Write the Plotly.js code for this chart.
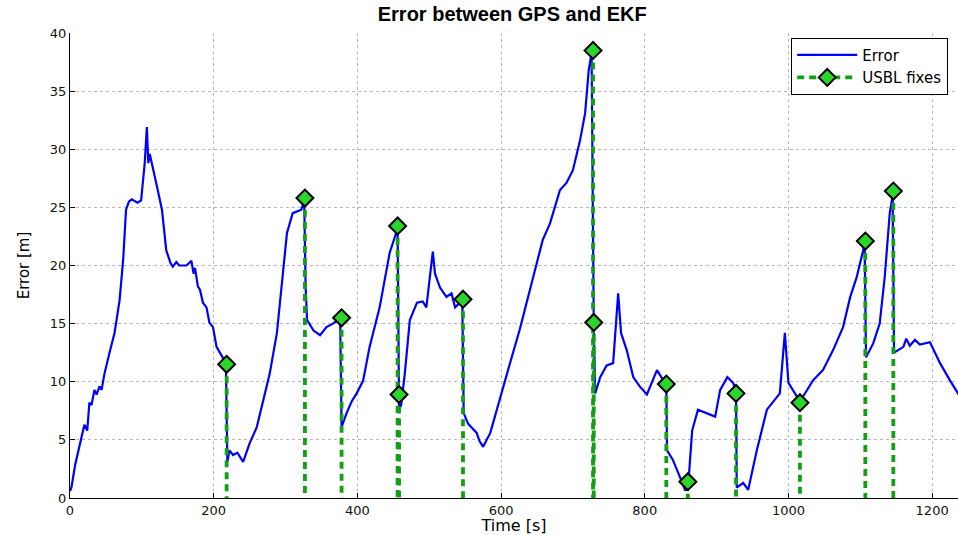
<!DOCTYPE html>
<html>
<head>
<meta charset="utf-8">
<script src="https://cdn.plot.ly/plotly-3.0.1.min.js"></script>
<style>html,body{margin:0;padding:0;background:#fff;}#chart{width:958px;height:535px;}</style>
</head>
<body>
<div id="chart"></div>
<script>
// Error between GPS and EKF (time in s, error in m)
const errTime = [0,2,7,13,20,24,27,30,34,37,41,44,48,55,62,69,74,78,82,86,94,99,104,107,109,111,113,120,128,134,140,143,148,152,162,169,172,174,178,181,185,190,194,199,204,211,217,219,222,227,233,241,250,260,269,278,288,295,302,310,322,326,328,330,339,348,357,366,376,378,385,392,399,408,417,431,445,454,456,458,461,466,473,483,491,496,501,505,508,515,524,531,536,543,546,548,554,560,566,570,575,585,598,612,626,640,658,668,682,691,700,710,717,722,726,729,731,738,747,756,763,767,775,784,793,803,817,826,830,831,839,849,856,860,866,874,887,898,905,915,923,927,928,937,944,956,970,982,988,995,1000,1006,1016,1034,1048,1062,1076,1086,1095,1104,1106,1108,1118,1127,1134,1141,1145,1147,1160,1164,1169,1176,1183,1197,1211,1225,1240];
const errValue = [0.6,0.9,2.8,4.4,6.3,5.8,8.2,8.0,9.3,8.9,9.6,9.3,10.7,12.5,14.2,17.0,20.5,24.8,25.5,25.7,25.4,25.6,28.8,31.9,28.8,29.6,29.0,27.1,24.8,21.3,20.2,19.9,20.3,20.0,20.0,20.4,19.3,19.8,18.2,17.9,16.8,16.4,15.1,14.7,13.0,12.3,11.6,3.1,4.1,3.7,3.9,3.1,4.7,6.1,8.4,10.7,14.2,18.5,22.8,24.5,24.8,25.6,18.1,15.3,14.4,14.0,14.7,15.0,15.5,6.1,7.3,8.3,9.0,10.1,13.0,16.4,21.1,22.8,23.0,7.6,8.0,10.7,15.3,16.8,16.9,16.4,19.3,21.2,19.3,18.1,17.3,17.6,16.4,16.8,17.0,7.3,6.4,6.0,5.6,4.9,4.4,5.6,8.5,11.5,14.5,17.9,22.2,23.6,26.5,27.1,28.2,30.8,33.1,36.8,38.3,15.0,9.0,10.4,11.4,11.6,17.6,14.2,12.7,10.4,9.6,8.9,11.0,10.1,9.8,4.1,3.3,1.8,0.7,0.7,5.8,7.6,7.3,7.0,9.3,10.4,9.9,9.2,0.9,1.3,0.7,4.1,7.6,8.6,9.0,14.2,9.9,9.3,8.3,10.1,11.0,12.7,14.7,17.3,19.0,21.3,22.0,12.1,13.3,15.0,19.0,24.5,26.0,12.5,13.0,13.7,13.1,13.6,13.2,13.4,11.6,10.1,8.6];

// USBL fixes
const fixTime = [218,327,378,456,458,547,728,729,830,860,927,1016,1107,1146];
const fixError = [11.5,25.8,15.5,23.4,8.9,17.1,38.5,15.1,9.8,1.4,9.0,8.2,22.1,26.4];

const xTicks = [0,200,400,600,800,1000,1200];
const yTicks = [0,5,10,15,20,25,30,35,40];

// stems from each fix value down to 0; a marker is shown only at the fix value
const fixFill = '#2ad62a', fixEdge = '#000000', clear = 'rgba(0,0,0,0)';
const stemX = [], stemY = [], stemFill = [], stemEdge = [];
fixTime.forEach((t, i) => {
  stemX.push(t, t, null);
  stemY.push(fixError[i], 0, null);
  stemFill.push(fixFill, clear, clear);
  stemEdge.push(fixEdge, clear, clear);
});

const font = 'DejaVu Sans, Liberation Sans, Arial, sans-serif';
const tfont = 'Liberation Sans, Arial, Helvetica, sans-serif';

const traces = [
  {
    x: errTime, y: errValue, type: 'scatter', mode: 'lines', name: 'Error',
    line: {color: '#0000ff', width: 2.2}
  },
  {
    x: stemX, y: stemY, type: 'scatter', mode: 'lines+markers', name: 'USBL fixes',
    connectgaps: false,
    line: {color: '#139f13', width: 3.8, dash: '7px,5px'},
    marker: {symbol: 'diamond', size: 13, opacity: 1, color: stemFill,
             line: {color: stemEdge, width: 2}}
  }
];

const layout = {
  width: 958, height: 535,
  margin: {l: 70, r: 0, t: 33, b: 37},
  paper_bgcolor: '#fff', plot_bgcolor: '#fff',
  font: {family: font, color: '#000', size: 14},
  title: {text: '<b>Error between GPS and EKF</b>', font: {family: tfont, size: 20, color: '#000'},
          x: 0.498, xanchor: 'center', y: 0.974, yanchor: 'middle', xref: 'paper'},
  xaxis: {
    range: [0, 1236], tickvals: xTicks, ticktext: xTicks.map(String),
    showgrid: true, gridcolor: '#b8b8b8', griddash: 'dot', gridwidth: 1,
    zeroline: false, showline: true, linecolor: '#000', linewidth: 1,
    ticks: 'inside', ticklen: 5, tickcolor: '#000',
    tickfont: {size: 13, family: font, color: '#111'},
    title: {text: 'Time [s]', font: {size: 16, family: font, color: '#000'}, standoff: 0}
  },
  yaxis: {
    range: [0, 40], tickvals: yTicks, ticktext: yTicks.map(String),
    showgrid: true, gridcolor: '#b8b8b8', griddash: 'dot', gridwidth: 1,
    zeroline: false, showline: true, linecolor: '#000', linewidth: 1,
    ticks: 'inside', ticklen: 5, tickcolor: '#000',
    tickfont: {size: 13, family: font, color: '#111'},
    title: {text: 'Error [m]', font: {size: 15, family: font, color: '#000'}, standoff: 16}
  },
  showlegend: true,
  legend: {
    x: 0.989, xanchor: 'right', y: 0.99, yanchor: 'top',
    bgcolor: '#fff', bordercolor: '#000', borderwidth: 1,
    font: {size: 15, family: font, color: '#000'},
    itemwidth: 60, tracegroupgap: 0
  }
};

Plotly.newPlot('chart', traces, layout, {staticPlot: true, displayModeBar: false});
</script>
</body>
</html>
